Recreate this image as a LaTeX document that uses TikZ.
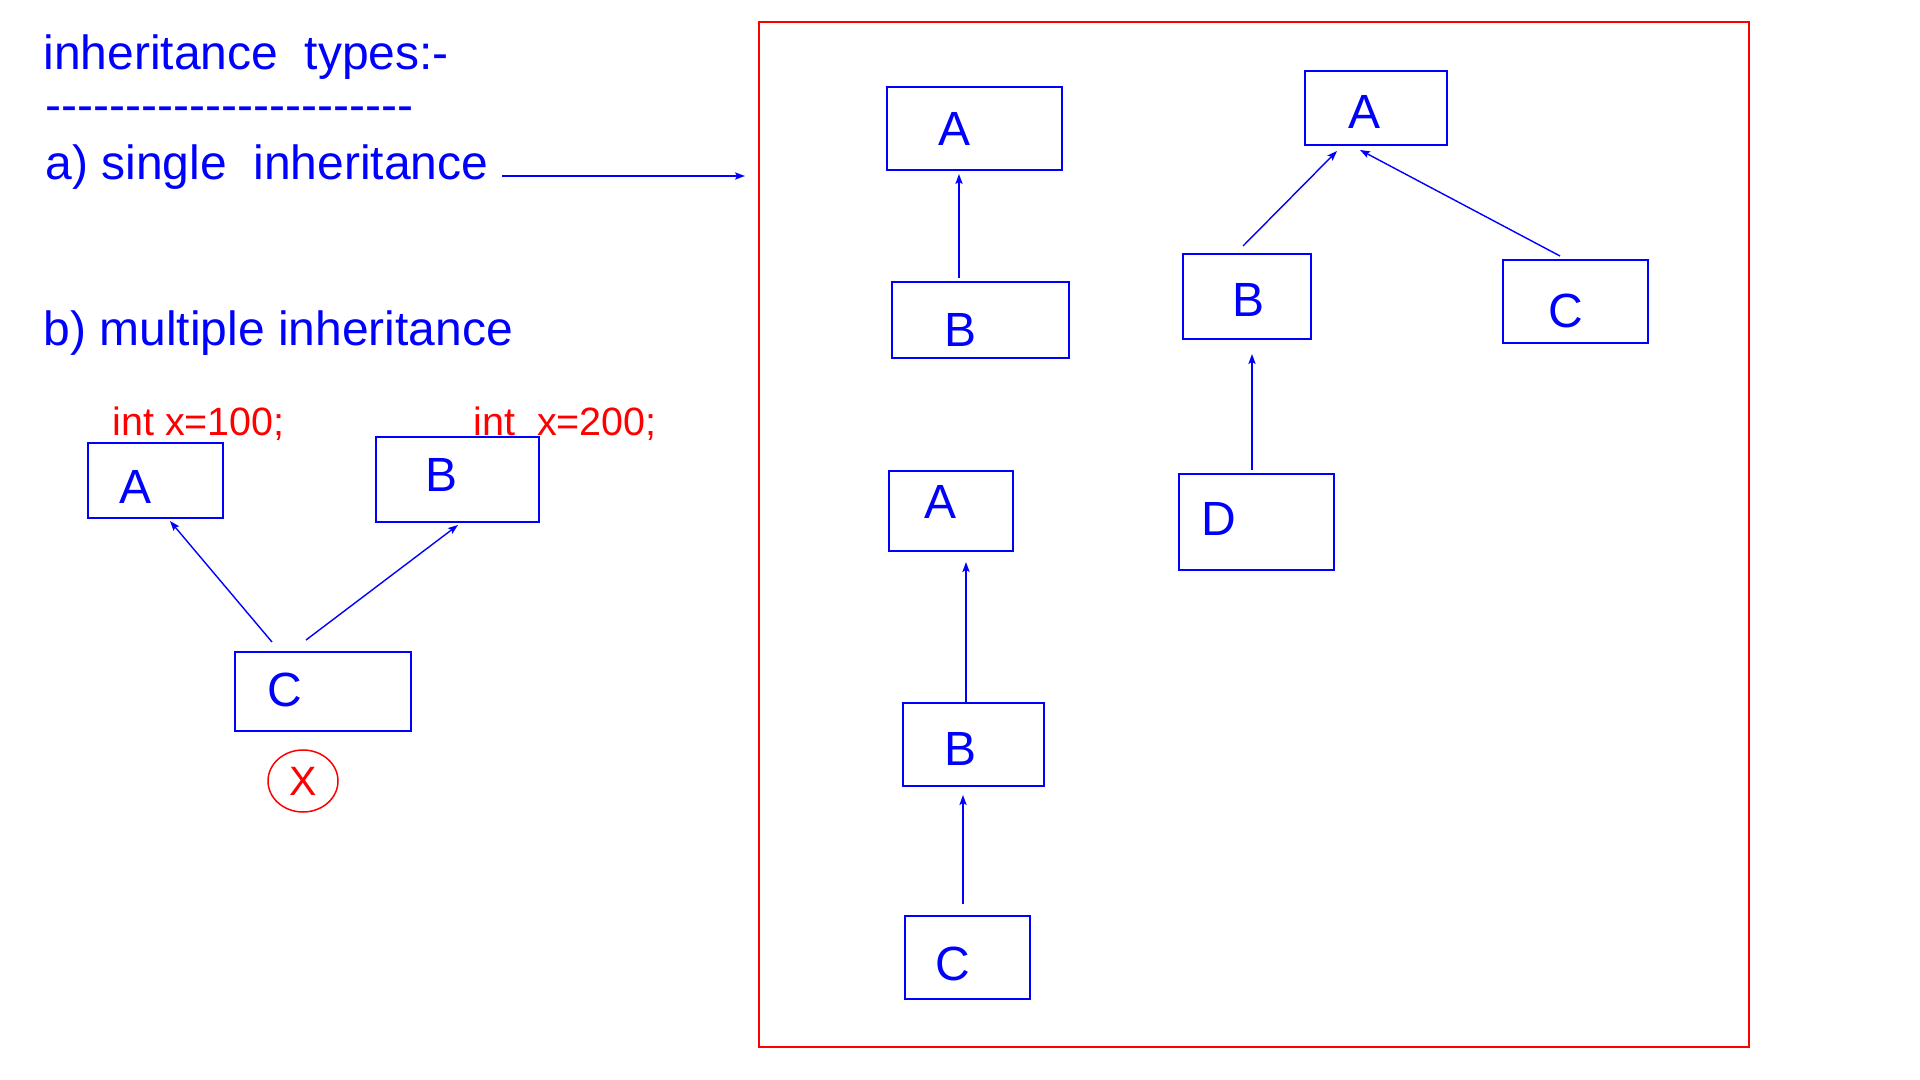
\documentclass[tikz,border=0pt]{standalone}
\usepackage{fontspec}
\setmainfont{Liberation Sans}
\usetikzlibrary{arrows.meta,calc,shapes.geometric}
\definecolor{ink}{RGB}{0,0,255}
\definecolor{mark}{RGB}{255,0,0}
\newcommand{\hy}{\mbox{-}}
\begin{document}
\begin{tikzpicture}[x=0.5pt,y=-0.5pt,
  heading/.style={anchor=base west, inner sep=0, text=ink, font=\fontsize{24}{28}\selectfont},
  note/.style={anchor=base west, inner sep=0, text=mark, font=\fontsize{19.75}{24}\selectfont},
  lab/.style={anchor=base west, inner sep=0, text=ink, font=\fontsize{24}{28}\selectfont},
  box/.style={draw=ink, line width=1pt, inner sep=0, outer sep=0},
  arr/.style={draw=ink, line width=0.7pt, -{Stealth[length=5pt,width=3.6pt,inset=1pt]}}]
\useasboundingbox (0,0) rectangle (1920,1080);
\fill[white] (0,0) rectangle (1920,1080);

% headings on the left
\node[heading] (title) at (43,70) {inheritance~~types:-};
\node[heading] (rule) at (45,122) {\hy\hy\hy\hy\hy\hy\hy\hy\hy\hy\hy\hy\hy\hy\hy\hy\hy\hy\hy\hy\hy\hy\hy};
\node[heading] (single) at (45,180) {a) single~~inheritance};
\node[heading] (multi) at (43,345) {b) multiple inheritance};
\coordinate (sa) at (502,176);
\coordinate (sb) at (745,176);
\draw[arr] (sa) -- (sb);

% multiple inheritance sketch
\node[note] (xa) at (112,435) {int x=100;};
\node[note] (xb) at (473,435) {int~~x=200;};
\node[box, minimum width=67.5pt, minimum height=37.5pt] (mA) at (155.5,480.5) {};
\node[box, minimum width=81.5pt, minimum height=42.5pt] (mB) at (457.5,479.5) {};
\node[box, minimum width=88pt, minimum height=39.5pt] (mC) at (323,691.5) {};
\node[lab] at (119,503) {A};
\node[lab] at (425.5,491) {B};
\node[lab] at (267,706) {C};
\draw[arr] ($(mC.north west)+(37,-10)$) -- ($(mA.south west)+(82,3)$);
\draw[arr] ($(mC.north west)+(71,-12)$) -- ($(mB.south west)+(82,3)$);
\node[ellipse, draw=mark, line width=0.75pt, minimum width=35pt, minimum height=31pt, inner sep=0,
      text=mark, font=\fontsize{20.5}{24}\selectfont] (nope) at (303,781) {X};

% frame holding the single / hierarchical / multilevel sketches
\node[draw=mark, line width=1pt, minimum width=495pt, minimum height=512.5pt, inner sep=0] (frame) at (1254,534.5) {};

% single
\node[box, minimum width=87.5pt, minimum height=41.5pt] (sA) at (974.5,128.5) {};
\node[box, minimum width=88.5pt, minimum height=38pt] (sB) at (980.5,320) {};
\node[lab] at (938,146) {A};
\node[lab] at (944.5,347) {B};
\draw[arr] ($(sB.north west)+(67,-4)$) -- ($(sA.south west)+(72,4)$);

% hierarchical
\node[box, minimum width=71pt, minimum height=37pt] (hA) at (1376,108) {};
\node[box, minimum width=64pt, minimum height=42.5pt] (hB) at (1247,296.5) {};
\node[box, minimum width=72.5pt, minimum height=41.5pt] (hC) at (1575.5,301.5) {};
\node[box, minimum width=77.5pt, minimum height=48pt] (hD) at (1256.5,522) {};
\node[lab] at (1348,129) {A};
\node[lab] at (1232.5,317) {B};
\node[lab] at (1548,328) {C};
\node[lab] at (1201.5,535) {D};
\draw[arr] ($(hB.north west)+(60,-8)$) -- ($(hA.south west)+(32,6)$);
\draw[arr] ($(hC.north west)+(57,-4)$) -- ($(hA.south west)+(55,5)$);
\draw[arr] ($(hD.north west)+(73,-4)$) -- ($(hB.south west)+(69,15)$);

% multilevel
\node[box, minimum width=62pt, minimum height=40pt] (cA) at (951,511) {};
\node[box, minimum width=70.5pt, minimum height=41.5pt] (cB) at (973.5,744.5) {};
\node[box, minimum width=62.5pt, minimum height=41.5pt] (cC) at (967.5,957.5) {};
\node[lab] at (924,518) {A};
\node[lab] at (944.5,765) {B};
\node[lab] at (935,980) {C};
\draw[arr] ($(cB.north west)+(63,-1)$) -- ($(cA.south west)+(77,11)$);
\draw[arr] ($(cC.north west)+(58,-12)$) -- ($(cB.south west)+(60,9)$);
\end{tikzpicture}
\end{document}
